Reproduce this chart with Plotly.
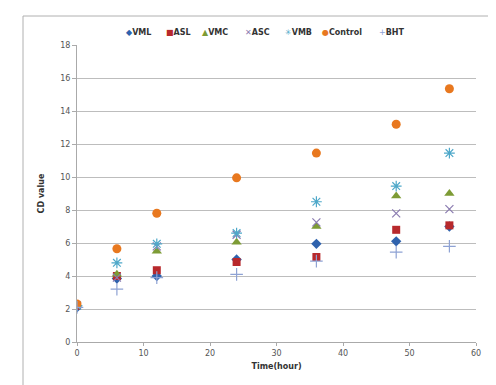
import plotly.graph_objects as go

hours = [0, 6, 12, 24, 36, 48, 56]
VML = [2.1, 3.85, 4.0, 5.0, 5.95, 6.1, 7.0]
ASL = [2.2, 4.0, 4.35, 4.85, 5.15, 6.8, 7.07]
VMC = [2.2, 4.1, 5.5, 6.05, 7.0, 8.85, 9.0]
ASC = [2.2, 3.9, 5.8, 6.5, 7.25, 7.8, 8.05]
VMB = [2.2, 4.8, 5.95, 6.6, 8.5, 9.45, 11.45]
Control = [2.3, 5.65, 7.8, 9.95, 11.45, 13.2, 15.35]
BHT = [2.1, 3.2, 3.9, 4.1, 4.9, 5.45, 5.8]

series_names = ["VML", "ASL", "VMC", "ASC", "VMB", "Control", "BHT"]
series_vals = [VML, ASL, VMC, ASC, VMB, Control, BHT]
symbols = ["diamond", "square", "triangle-up", "x-thin", "asterisk", "circle", "cross-thin"]
colors = ["#2f62ad", "#b8292c", "#7d9b35", "#8a7bb0", "#4ea8c9", "#e8781f", "#8ea2d4"]
sizes = [8, 8, 9, 8, 9, 9, 9]
legend_glyphs = ["\u25c6", "\u25a0", "\u25b2", "\u2715", "\u2733", "\u25cf", "+"]
legend_px = [116, 156, 192, 235, 275, 312, 369]  # left pixel of each legend entry

L, R, T, B = 69, 28, 37, 51
W, H = 496, 385
pw, ph = W - L - R, H - T - B

fig = go.Figure()
for name, vals, sym, col, sz in zip(series_names, series_vals, symbols, colors, sizes):
    thin = sym in ("x-thin", "cross-thin", "asterisk")
    fig.add_trace(go.Scatter(
        x=hours, y=vals, name=name, mode="markers", showlegend=False,
        marker=dict(symbol=sym, size=sz, color=col,
                    line=dict(color=col, width=1.2 if thin else 0)),
    ))

annotations = []
for name, col, g, px in zip(series_names, colors, legend_glyphs, legend_px):
    annotations.append(dict(
        xref="paper", yref="paper", x=(px - L) / pw, y=(H - B - 24) / ph,
        xanchor="left", yanchor="middle", showarrow=False,
        text=f"<span style='color:{col}'>{g}</span><b>{name}</b>",
        font=dict(size=8, color="#333333", family="DejaVu Sans"),
    ))

fig.update_layout(
    width=W, height=H,
    margin=dict(l=L, r=R, t=T, b=B),
    paper_bgcolor="white", plot_bgcolor="white",
    font=dict(family="DejaVu Sans", size=8, color="#555555"),
    showlegend=False,
    annotations=annotations,
    xaxis=dict(range=[0, 60], dtick=10, showgrid=False, showline=True,
               linecolor="#aaaaaa", linewidth=1, ticks="outside", ticklen=3,
               tickcolor="#aaaaaa", zeroline=False,
               title=dict(text="<b>Time(hour)</b>", font=dict(size=8, color="#333333",
                          family="DejaVu Sans"), standoff=6)),
    yaxis=dict(range=[0, 18], dtick=2, showgrid=True, gridcolor="#bdbdbd",
               gridwidth=1, showline=True, linecolor="#aaaaaa", linewidth=1,
               ticks="outside", ticklen=4, tickcolor="#aaaaaa", zeroline=False,
               title=dict(text="<b>CD value</b>", font=dict(size=8, color="#333333",
                          family="DejaVu Sans"), standoff=14)),
    shapes=[dict(type="rect", xref="paper", yref="paper",
                 x0=(15 - L) / pw, x1=(487 - L) / pw,
                 y0=(H - B - 379) / ph, y1=(H - B - 8) / ph,
                 line=dict(color="#b0b0b0", width=1), layer="above")],
)

fig.write_html("out.html")
